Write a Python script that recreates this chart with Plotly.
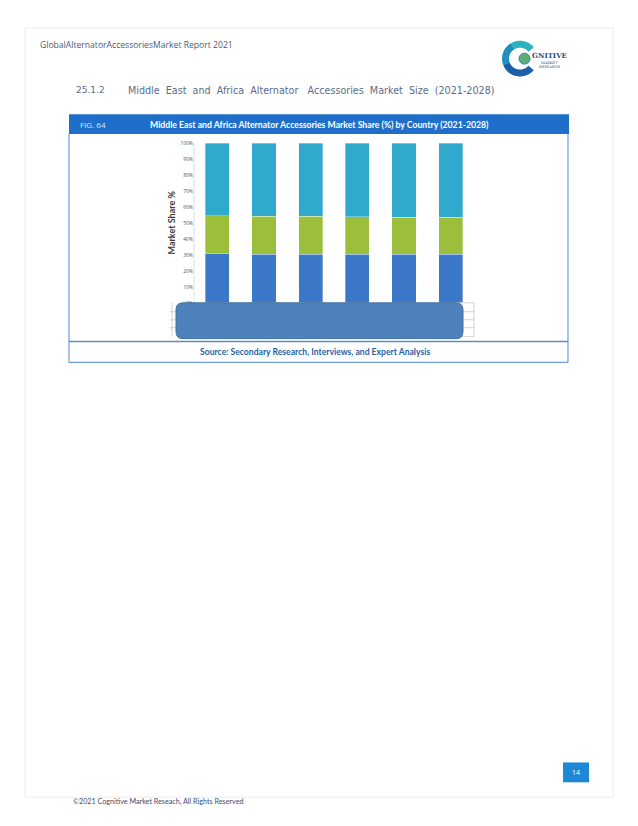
import numpy as np
import plotly.graph_objects as go

# ---------------- data ----------------
categories = ["2021", "2022", "2023", "2024", "2025", "2026"]
series_names = ["Segment 1", "Segment 2", "Segment 3"]
blue_share = [30.6, 30.5, 30.5, 30.4, 30.4, 30.3]
green_share = [23.9, 23.6, 23.6, 23.5, 23.3, 23.2]
cyan_share = [45.5, 45.9, 45.9, 46.1, 46.3, 46.5]
y_tick_values = [0, 10, 20, 30, 40, 50, 60, 70, 80, 90, 100]
y_tick_labels = ["0%", "10%", "20%", "30%", "40%", "50%", "60%", "70%", "80%", "90%", "100%"]

OFF = 8  # browser body margin
W, H = 638 - OFF, 826 - OFF


def X(px):
    return (px - OFF) / W


def Y(py):
    return 1 - (py - OFF) / H


fig = go.Figure()
colors = ["#3b79c8", "#9bbf3b", "#31a9cd"]
for name, vals, col in zip(series_names, [blue_share, green_share, cyan_share], colors):
    fig.add_trace(go.Bar(
        x=categories, y=vals, name=name,
        marker=dict(color=col, line=dict(color="rgba(255,255,255,0.55)", width=0.6)),
        hoverinfo="x+y+name",
    ))

shapes = []


def rect(x0, y0, x1, y1, fill=None, line=None, lw=0, layer="above"):
    shapes.append(dict(type="rect", xref="paper", yref="paper",
                       x0=X(x0), x1=X(x1), y0=Y(y1), y1=Y(y0),
                       fillcolor=fill if fill else "rgba(0,0,0,0)",
                       line=dict(color=line if line else "rgba(0,0,0,0)", width=lw),
                       layer=layer))


def hline(x0, x1, y, color, lw=1):
    shapes.append(dict(type="line", xref="paper", yref="paper",
                       x0=X(x0), x1=X(x1), y0=Y(y), y1=Y(y),
                       line=dict(color=color, width=lw), layer="above"))


def vline(x, y0, y1, color, lw=1):
    shapes.append(dict(type="line", xref="paper", yref="paper",
                       x0=X(x), x1=X(x), y0=Y(y0), y1=Y(y1),
                       line=dict(color=color, width=lw), layer="above"))


def pathstr(pts):
    return "M " + " L ".join(f"{X(px):.5f},{Y(py):.5f}" for px, py in pts) + " Z"


# page border
rect(25, 25, 613, 800, line="#ececec", lw=1)

# figure header bar
rect(69, 112, 569, 132, fill="#1f6fca")
# chart box borders
vline(69, 132, 362, "#6f9fd8", 1.2)
vline(568, 132, 362, "#6f9fd8", 1.2)
hline(69, 568, 341, "#5b8ccc", 1.6)
hline(69, 568, 362, "#6f9fd8", 1.2)

# y axis line (faint)
vline(194, 141, 302, "#d9d9d9", 0.8)

# small data-table grid at right / left
for gy in [302, 311, 319, 327, 336]:
    hline(455, 474, gy, "#c9c9c9", 0.8)
vline(474, 302, 336, "#c9c9c9", 0.8)
for gy in [311, 319, 327]:
    hline(170, 180, gy, "#c9c9c9", 0.8)
vline(172, 302, 336, "#c9c9c9", 0.8)

# blue rounded rectangle covering the axis labels
x0, x1, y0, y1, r = 176, 463, 302, 338, 7
rr = (f"M {X(x0 + r)},{Y(y0)} L {X(x1 - r)},{Y(y0)} Q {X(x1)},{Y(y0)} {X(x1)},{Y(y0 + r)} "
      f"L {X(x1)},{Y(y1 - r)} Q {X(x1)},{Y(y1)} {X(x1 - r)},{Y(y1)} "
      f"L {X(x0 + r)},{Y(y1)} Q {X(x0)},{Y(y1)} {X(x0)},{Y(y1 - r)} "
      f"L {X(x0)},{Y(y0 + r)} Q {X(x0)},{Y(y0)} {X(x0 + r)},{Y(y0)} Z")
shapes.append(dict(type="path", xref="paper", yref="paper", path=rr,
                   fillcolor="#4f81bd", line=dict(color="#41709f", width=1), layer="above"))

# page number box
rect(563, 765, 589, 785, fill="#1e88d6")

# logo: C ring
cx, cy = 520, 56
ro, ri = 18, 11


def ring(a0, a1, color):
    angs = np.linspace(np.radians(a0), np.radians(a1), 30)
    outer = [(cx + ro * np.cos(a), cy - ro * np.sin(a)) for a in angs]
    inner = [(cx + ri * np.cos(a), cy - ri * np.sin(a)) for a in angs[::-1]]
    shapes.append(dict(type="path", xref="paper", yref="paper", path=pathstr(outer + inner),
                       fillcolor=color, line=dict(width=0), layer="above"))


ring(40, 120, "#2bb3bf")
ring(120, 200, "#1f8fc0")
ring(200, 320, "#1d5fa8")
shapes.append(dict(type="circle", xref="paper", yref="paper",
                   x0=X(cx - 1), x1=X(cx + 10), y0=Y(cy + 5.5), y1=Y(cy - 5.5),
                   fillcolor="#5fae7a", line=dict(color="#2a7fb8", width=1), layer="above"))

annotations = []


def text(x, y, s, size, color, font="Open Sans", xanchor="left", bold=False, angle=0):
    annotations.append(dict(xref="paper", yref="paper", x=X(x), y=Y(y), text=s,
                            showarrow=False, xanchor=xanchor, yanchor="middle",
                            textangle=angle,
                            font=dict(size=size, color=color, family=font,
                                      weight="bold" if bold else "normal")))


text(38, 42, "GlobalAlternatorAccessoriesMarket Report 2021", 8.6, "#4a5a78", font="Open Sans")
text(74, 88, "25.1.2", 9, "#5a6b88", font="DejaVu Sans")
text(126, 88, "Middle  East  and  Africa  Alternator   Accessories  Market  Size  (2021-2028)",
     9.6, "#5a6b88", font="DejaVu Sans")
text(78, 122, "FIG. 64", 8, "#dfe9f7", font="Open Sans")
text(148, 122, "Middle East and Africa Alternator Accessories Market Share (%) by Country (2021-2028)",
     8.7, "#ffffff", font="Lato", bold=True)
text(315, 352, "Source: Secondary Research, Interviews, and Expert Analysis", 8.6, "#1f5fa8",
     font="Lato", xanchor="center", bold=True)
text(171, 221, "Market Share %", 9, "#3a3a3a", font="Lato", xanchor="center", bold=True, angle=-90)
text(576, 775, "14", 7, "#ffffff", font="Open Sans", xanchor="center")
text(71, 804, "©2021 Cognitive Market Reseach, All Rights Reserved", 7.2, "#3d4d6a", font="Lato")
text(530, 53, "GNITIVE", 7, "#1f4e79", font="DejaVu Serif", bold=True)
text(549, 60, "MARKET", 3.5, "#1f4e79", font="DejaVu Serif", xanchor="center")
text(549, 64.5, "RESEARCH", 3.5, "#1f4e79", font="DejaVu Serif", xanchor="center")

fig.update_layout(
    width=W, height=H, autosize=False,
    margin=dict(l=0, r=0, t=0, b=0),
    paper_bgcolor="white", plot_bgcolor="white",
    barmode="stack", bargap=0.48, showlegend=False,
    xaxis=dict(domain=[X(194), X(474)], showticklabels=False, showgrid=False,
               zeroline=False, showline=False, fixedrange=True),
    yaxis=dict(domain=[Y(302), Y(141)], range=[0, 100], tickvals=y_tick_values,
               ticktext=y_tick_labels, showgrid=False, zeroline=False, showline=False,
               tickfont=dict(size=5, color="#555555", family="Open Sans"),
               ticks="", fixedrange=True),
    shapes=shapes, annotations=annotations,
)

fig.write_html("out.html")
